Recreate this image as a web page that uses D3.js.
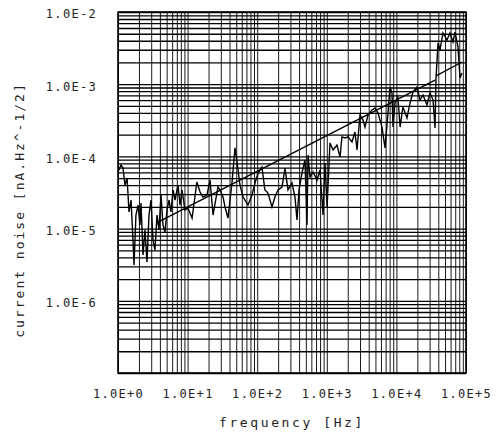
<!DOCTYPE html>
<html>
<head>
<meta charset="utf-8">
<script src="https://cdn.jsdelivr.net/npm/d3@7"></script>
<style>
  html, body { margin: 0; padding: 0; background: #fff; }
  svg { display: block; }
  text { font-family: "DejaVu Sans Mono", monospace; fill: #222; }
</style>
</head>
<body>
<svg id="chart" width="503" height="439"></svg>
<script>
// ---- data ----
const freq = [1, 1.104, 1.18, 1.26, 1.35, 1.44, 1.54, 1.64, 1.70, 1.81, 1.94, 2.07, 2.14, 2.29, 2.44, 2.61,
  2.79, 2.98, 3.18, 3.40, 3.63, 3.88, 4.15, 4.43, 4.73, 5.06, 5.41, 5.77, 6.17, 6.59, 7.28, 7.78, 8.31, 9.18,
  10.1, 11.6, 13.6, 15.1, 16.6, 19.0, 21.0, 23.2, 27.3, 29.2, 32.3, 34.5, 38.0, 43.4, 48.0, 51.3, 56.6, 62.5,
  73.8, 84.2, 93.0, 103, 117, 129, 143, 163, 180, 199, 227, 251, 277, 316, 349, 373, 399, 440, 486, 520, 537,
  574, 634, 723, 798, 853, 882, 942, 1010, 1110, 1230, 1400, 1550, 1650, 1830, 2020, 2300, 2540, 2720, 3000,
  3310, 3540, 3910, 4460, 4930, 5440, 6210, 6860, 7570, 8090, 8650, 8930, 9550, 10500, 11300, 12400, 14200,
  15700, 17300, 19800, 21800, 24100, 27500, 30400, 33600, 35900, 37100, 39600, 42300, 46700, 53300, 58900,
  65000, 69500, 76700, 82000, 87700];
const noise = [6.08e-5, 7.60e-5, 6.90e-5, 4.02e-5, 5.02e-5, 1.70e-5, 2.49e-5, 6.95e-6, 3.13e-6, 1.54e-5, 2.12e-5,
  1.12e-5, 2.26e-5, 4.31e-6, 9.57e-6, 3.44e-6, 1.54e-5, 2.49e-5, 6.95e-6, 5.06e-6, 1.54e-5, 9.57e-6, 2.92e-5,
  1.12e-5, 8.97e-6, 1.81e-5, 2.49e-5, 1.70e-5, 3.43e-5, 2.49e-5, 4.02e-5, 2.12e-5, 3.43e-5, 1.81e-5,
  1.93e-5, 1.40e-5, 4.42e-5, 3.21e-5, 2.74e-5, 2.92e-5, 4.71e-5, 1.54e-5, 3.77e-5, 3.43e-5, 2.74e-5, 1.99e-5,
  1.40e-5, 4.28e-5, 1.31e-4, 8.36e-5, 4.02e-5, 2.74e-5, 2.12e-5, 2.92e-5, 4.28e-5, 5.89e-5, 7.13e-5, 3.43e-5,
  3.11e-5, 1.99e-5, 2.74e-5, 3.43e-5, 3.77e-5, 6.90e-5, 3.43e-5, 4.28e-5, 2.74e-5, 1.32e-5, 3.43e-5, 5.89e-5,
  8.91e-5, 1.12e-5, 1.04e-4, 5.19e-5, 6.08e-5, 4.71e-5, 6.49e-5, 2.49e-5, 1.54e-5, 8.10e-5, 1.99e-5, 1.53e-4,
  1.23e-4, 1.44e-4, 9.82e-5, 1.86e-4, 1.80e-4, 1.86e-4, 1.58e-4, 2.18e-4, 1.23e-4, 3.74e-4, 3.19e-4, 2.55e-4,
  3.74e-4, 4.40e-4, 4.68e-4, 3.99e-4, 2.55e-4, 1.31e-4, 3.99e-4, 9.14e-4, 7.55e-4, 2.55e-4, 5.50e-4, 6.65e-4,
  2.55e-4, 4.83e-4, 3.40e-4, 5.50e-4, 7.80e-4, 9.14e-4, 6.04e-4, 7.08e-4, 5.15e-4, 7.55e-4, 6.04e-4, 2.47e-4,
  1.22e-3, 3.72e-3, 2.98e-3, 5.12e-3, 4.09e-3, 5.12e-3, 3.84e-3, 5.28e-3, 3.27e-3, 1.22e-3, 1.43e-3];
// fitted lines (two segments)
const fitFreq1 = [3.76, 35900];
const fitNoise1 = [1.23e-5, 1.14e-3];
const fitFreq2 = [37100, 87700];
const fitNoise2 = [1.30e-3, 2.03e-3];

const xTickValues = [1, 10, 100, 1000, 10000, 100000];
const xTickLabels = ["1.0E+0", "1.0E+1", "1.0E+2", "1.0E+3", "1.0E+4", "1.0E+5"];
const yTickValues = [1e-2, 1e-3, 1e-4, 1e-5, 1e-6];
const yTickLabels = ["1.0E-2", "1.0E-3", "1.0E-4", "1.0E-5", "1.0E-6"];

const xTitle = "frequency [Hz]";
const yTitle = "current noise [nA.Hz^-1/2]";

// ---- layout ----
const svg = d3.select("#chart");
const L = 118, R = 466, T = 12, B = 373;
const x = d3.scaleLog().domain([1, 1e5]).range([L, R]);
const y = d3.scaleLog().domain([1e-7, 1e-2]).range([B, T]);

// grid values: 1..9 in each decade
const gridX = [];
for (let e = 0; e < 5; e++) for (let k = 1; k <= 9; k++) gridX.push(k * Math.pow(10, e));
gridX.push(1e5);
const gridY = [];
for (let e = -7; e < -2; e++) for (let k = 1; k <= 9; k++) gridY.push(+(k * Math.pow(10, e)).toPrecision(3));
gridY.push(1e-2);

// vertical grid via axis
const gx = svg.append("g").attr("transform", `translate(0,${B})`)
  .call(d3.axisBottom(x).tickValues(gridX).tickSize(-(B - T)).tickFormat(""));
gx.select(".domain").remove();
gx.selectAll(".tick line").attr("stroke", "#1a1a1a").attr("stroke-width", 1);

// horizontal grid via axis
const gy = svg.append("g").attr("transform", `translate(${L},0)`)
  .call(d3.axisLeft(y).tickValues(gridY).tickSize(-(R - L)).tickFormat(""));
gy.select(".domain").remove();
gy.selectAll(".tick line").attr("stroke", "#000").attr("stroke-width", 1.3);

// frame
svg.append("rect").attr("x", L).attr("y", T).attr("width", R - L).attr("height", B - T)
  .attr("fill", "none").attr("stroke", "#000").attr("stroke-width", 1.6);

// tick labels
const xa = svg.append("g").attr("transform", `translate(0,${B + 13})`)
  .call(d3.axisBottom(x).tickValues(xTickValues).tickSize(0)
    .tickFormat((d, i) => xTickLabels[i]));
xa.select(".domain").remove();
xa.selectAll("text").attr("font-size", 12).attr("letter-spacing", "1.3px")
  .attr("font-family", "DejaVu Sans Mono, monospace").attr("fill", "#222");

const ya = svg.append("g").attr("transform", `translate(${L - 18},2)`)
  .call(d3.axisLeft(y).tickValues(yTickValues).tickSize(0)
    .tickFormat((d, i) => yTickLabels[i]));
ya.select(".domain").remove();
ya.selectAll("text").attr("font-size", 12).attr("letter-spacing", "1.3px")
  .attr("font-family", "DejaVu Sans Mono, monospace").attr("fill", "#222");

// titles
svg.append("text").attr("x", 292).attr("y", 427).attr("text-anchor", "middle")
  .attr("font-size", 13).attr("letter-spacing", "2.6px").text(xTitle);
svg.append("text").attr("transform", "translate(24,210) rotate(-90)").attr("text-anchor", "middle")
  .attr("font-size", 13).attr("letter-spacing", "2px").text(yTitle);

// data line
const line = d3.line().x(d => x(d[0])).y(d => y(d[1]));
svg.append("path").datum(freq.map((f, i) => [f, noise[i]]))
  .attr("d", line).attr("fill", "none").attr("stroke", "#000").attr("stroke-width", 1.4)
  .attr("stroke-linejoin", "miter");

// fit lines
svg.append("path").datum(fitFreq1.map((f, i) => [f, fitNoise1[i]]))
  .attr("d", line).attr("fill", "none").attr("stroke", "#000").attr("stroke-width", 1.4);
svg.append("path").datum(fitFreq2.map((f, i) => [f, fitNoise2[i]]))
  .attr("d", line).attr("fill", "none").attr("stroke", "#000").attr("stroke-width", 1.4);
</script>
</body>
</html>
